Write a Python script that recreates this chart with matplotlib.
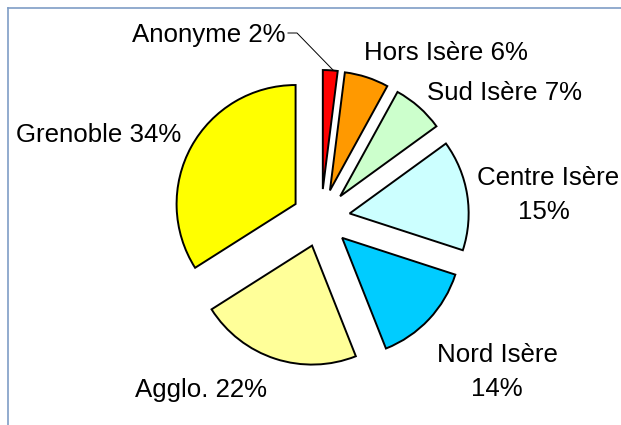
import matplotlib
matplotlib.use('Agg')
import matplotlib.pyplot as plt
from matplotlib.lines import Line2D

categories = ['Anonyme', 'Hors Isère', 'Sud Isère', 'Centre Isère', 'Nord Isère', 'Agglo.', 'Grenoble']
values = [2, 6, 7, 15, 14, 22, 34]
colors = ['#FF0000', '#FF9900', '#CCFFCC', '#CCFFFF', '#00CCFF', '#FFFF99', '#FFFF00']

W, H = 621, 425
plt.rcParams['font.family'] = ['Liberation Sans', 'DejaVu Sans']

fig = plt.figure(figsize=(W / 100, H / 100), dpi=100)
ax = fig.add_axes([0, 0, 1, 1])

R = 119
ax.pie(values, colors=colors, startangle=90, counterclock=False,
       radius=R, center=(321, H - 218), explode=[29] * len(values),
       wedgeprops=dict(edgecolor='black', linewidth=1.4))
ax.set_xlim(0, W)
ax.set_ylim(0, H)
ax.set_aspect('equal')
ax.axis('off')

fs = 18.6
labels = [f'{c} {v}%' for c, v in zip(categories, values)]

def T(x, y, s, ha):
    ax.text(x, H - y, s, ha=ha, va='baseline', fontsize=fs, color='black')

T(285, 42, labels[0], 'right')
T(364, 60, labels[1], 'left')
T(427, 100, labels[2], 'left')
T(548, 185, categories[3], 'center')
T(544, 219, f'{values[3]}%', 'center')
T(497, 362, categories[4], 'center')
T(497, 396, f'{values[4]}%', 'center')
T(135, 397, labels[5], 'left')
T(16, 142, labels[6], 'left')

# leader line for Anonyme
ax.add_line(Line2D([288, 297, 333], [H - 33, H - 33, H - 70], color='black', linewidth=0.7))

# chart-area frame (top and left visible)
fig.add_artist(Line2D([8 / W, 1], [1 - 8 / H, 1 - 8 / H], transform=fig.transFigure, color='#7F9DC6', linewidth=1.2))
fig.add_artist(Line2D([8 / W, 8 / W], [0, 1 - 8 / H], transform=fig.transFigure, color='#7F9DC6', linewidth=1.2))

fig.savefig('out.png', dpi=100)
